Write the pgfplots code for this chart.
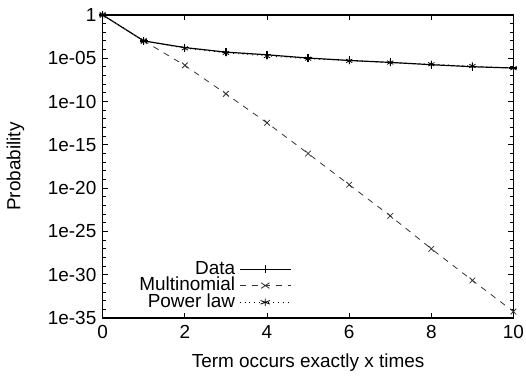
\documentclass[border=0pt]{standalone}
\usepackage{fontspec}
\setmainfont{Liberation Sans}
\usepackage{pgfplots}
\pgfplotsset{compat=1.18}

\begin{document}
\begin{tikzpicture}
\begin{axis}[
  name=ax,
  scale only axis,
  width=206pt, height=152pt,
  ymode=log,
  xmin=0, xmax=10,
  ymin=1e-35, ymax=1,
  xtick={0,2,4,6,8,10},
  ytick={1,1e-5,1e-10,1e-15,1e-20,1e-25,1e-30,1e-35},
  yticklabels={1,1e-05,1e-10,1e-15,1e-20,1e-25,1e-30,1e-35},
  minor ytick={1e-1,1e-2,1e-3,1e-4,1e-6,1e-7,1e-8,1e-9,1e-11,1e-12,1e-13,1e-14,
    1e-16,1e-17,1e-18,1e-19,1e-21,1e-22,1e-23,1e-24,1e-26,1e-27,1e-28,1e-29,
    1e-31,1e-32,1e-33,1e-34},
  tick align=inside,
  major tick length=2.5pt,
  minor tick length=1.5pt,
  axis line style={line width=0.8pt},
  every tick/.style={black, line width=0.5pt},
  /pgf/number format/assume math mode=true,
  tick label style={font=\fontsize{9.5}{10}\selectfont, inner sep=1pt},
  xticklabel style={yshift=-2.5pt},
  yticklabel style={xshift=-2pt},
  label style={font=\fontsize{9.5}{10}\selectfont},
  xlabel={Term occurs exactly x times},
  ylabel={Probability},
  xlabel style={at={(axis description cs:0.5,0)}, anchor=center, yshift=-22.5pt, inner sep=0pt},
  ylabel style={at={(axis description cs:-0.19,0.5)}, anchor=south, inner sep=0pt},
  legend style={draw=none, fill=none, at={(axis cs:4.75,1e-35)}, anchor=south east,
    font=\fontsize{9.5}{9.5}\selectfont, row sep=-4pt, yshift=-0.5pt},
  legend plot pos=right,
  legend cell align=right,
  legend image post style={xscale=1.5},
]
\addplot[black, line width=0.6pt, mark=+, mark size=2pt] coordinates {
  (0,1) (1,1.0e-3) (2,1.7e-4) (3,5.1e-5) (4,2.5e-5) (5,1.05e-5)
  (6,5.6e-6) (7,3.3e-6) (8,1.8e-6) (9,1.05e-6) (10,7.4e-7)
};
\addlegendentry{Data}
\addplot[black!80, line width=0.4pt, dashed, mark=x, mark size=2pt, mark options={solid}] coordinates {
  (0,1) (1,1.0e-3) (2,1.5e-6) (3,7.8e-10) (4,3.5e-13) (5,1e-16)
  (6,2.5e-20) (7,6.3e-24) (8,1e-27) (9,2.2e-31) (10,5.6e-35)
};
\addlegendentry{Multinomial}
\addplot[black, line width=0.4pt, dotted, mark=asterisk, mark size=1.8pt, mark options={solid}] coordinates {
  (0,1) (1,1.0e-3) (2,1.4e-4) (3,4.2e-5) (4,1.8e-5) (5,9e-6)
  (6,5e-6) (7,3.2e-6) (8,2.0e-6) (9,1.26e-6) (10,7e-7)
};
\addlegendentry{Power law}
\end{axis}
\path (ax.south west) ++(-51.5pt,-29.5pt) coordinate (bl);
\path (ax.north east) ++(5.5pt,7.5pt) coordinate (tr);
\useasboundingbox (bl) rectangle (tr);
\end{tikzpicture}
\end{document}
